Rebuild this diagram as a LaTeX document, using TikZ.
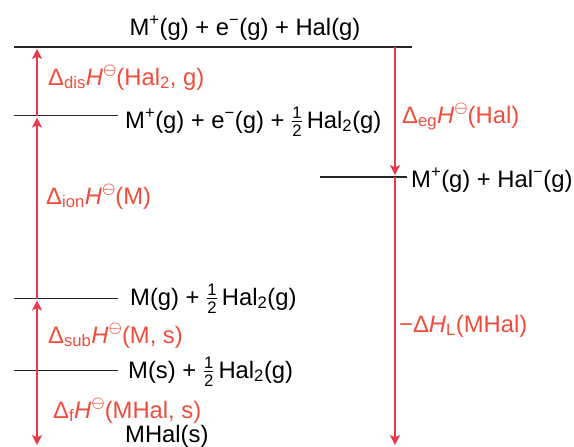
\documentclass[tikz,border=0pt]{standalone}
\usepackage{amsmath}
\usepackage{fontspec}
\setmainfont{Liberation Sans}
\usetikzlibrary{arrows.meta}

\definecolor{cycred}{HTML}{EF4D3C}
\definecolor{arrred}{HTML}{E8394B}
\newcommand{\stdH}{\textit{H}\raisebox{0.45em}{\scalebox{0.6}{$\boldsymbol{\ominus}$}}}
\newcommand{\halfHal}{$\tfrac{\text{1}}{\text{2}}$\,Hal\textsubscript{2}(g)}

\begin{document}
\begin{tikzpicture}[x=1pt, y=-1pt, font=\fontsize{23.8}{28}\selectfont,
  >={Stealth[length=10pt, width=10pt, inset=2.5pt]},
  level/.style={draw=black!85, line width=1.1pt},
  cyc/.style={->, draw=arrred, line width=1.1pt, shorten >=2pt},
  lab/.style={anchor=base west, inner sep=0pt},
  rlab/.style={lab, text=cycred}]
  \useasboundingbox (0,0) rectangle (574,447);

  % energy levels
  \draw[level] (14,47) -- (412,47);
  \draw[level] (320,177) -- (407,177);
  \foreach \y/\n in {115.7/dis, 298.5/gas, 370.5/sol}
    {\draw[level] (14,\y) -- (118,\y);
     \coordinate (a-\n) at (37,\y);}
  \coordinate (a-top) at (37,47);
  \coordinate (a-bot) at (37,447);
  \coordinate (b-top) at (395,47);
  \coordinate (b-ion) at (395,177);
  \coordinate (b-bot) at (395,447);

  \node[anchor=base, inner sep=0pt] (s-top) at (245,35)
    {M\textsuperscript{+}(g) + e\textsuperscript{−}(g) + Hal(g)};
  \node[lab] (s-dis) at (125,128)
    {M\textsuperscript{+}(g) + e\textsuperscript{−}(g) + \halfHal};
  \node[lab] (s-ion) at (411,187)
    {M\textsuperscript{+}(g) + Hal\textsuperscript{−}(g)};
  \node[lab] (s-gas) at (130,305) {M(g) + \halfHal};
  \node[lab] (s-sol) at (128,378) {M(s) + \halfHal};
  \node[lab] (s-bot) at (125,442) {MHal(s)};

  % cycle
  \draw[cyc] (a-sol) -- (a-gas);
  \draw[cyc] (a-gas) -- (a-dis);
  \draw[cyc] (a-dis) -- (a-top);
  \draw[cyc] (a-sol) -- (a-bot);
  \draw[cyc] (b-top) -- (b-ion);
  \draw[cyc] (b-ion) -- (b-bot);

  \node[rlab] (h-dis) at (48,85) {Δ\textsubscript{dis}\stdH(Hal\textsubscript{2}, g)};
  \node[rlab] (h-ion) at (46,204) {Δ\textsubscript{ion}\stdH(M)};
  \node[rlab] (h-eg) at (402,123) {Δ\textsubscript{eg}\stdH(Hal)};
  \node[rlab] (h-sub) at (48,343) {Δ\textsubscript{sub}\stdH(M, s)};
  \node[rlab] (h-f) at (53,418) {Δ\textsubscript{f}\stdH(MHal, s)};
  \node[rlab] (h-L) at (399,332) {−Δ\textit{H}\textsubscript{L}(MHal)};
\end{tikzpicture}
\end{document}
